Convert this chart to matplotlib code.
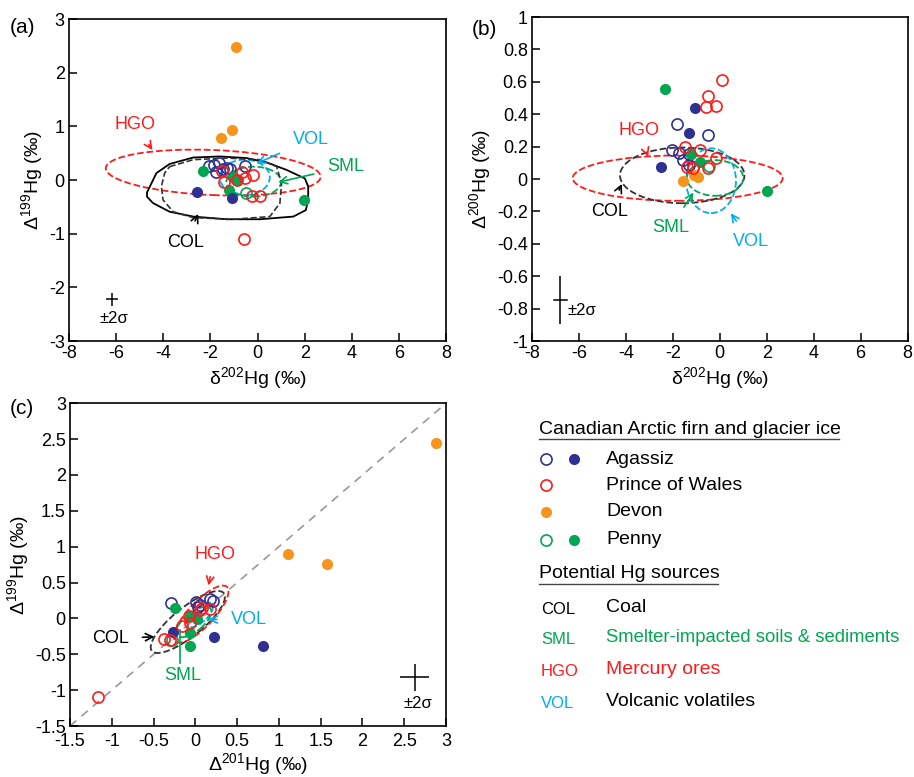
import matplotlib
matplotlib.use("Agg")
import matplotlib.pyplot as plt
from matplotlib.patches import Ellipse, Polygon
import numpy as np

plt.rcParams["font.family"] = ["Liberation Sans", "DejaVu Sans"]
plt.rcParams["mathtext.fontset"] = "custom"
plt.rcParams["mathtext.rm"] = "Liberation Sans"
plt.rcParams["axes.linewidth"] = 1.2
plt.rcParams["axes.unicode_minus"] = False

NAVY = "#2e3192"
RED = "#ff1a1a"
ORANGE = "#f7941d"
GREEN = "#00a651"
CYAN = "#00aeef"

# ---- panel (a): d202Hg vs D199Hg ----
a_agz_open_x = [-2.05, -1.85, -1.64, -1.77, -1.46, -1.16, -0.52, -1.30]
a_agz_open_y = [0.26, 0.28, 0.31, 0.15, 0.21, 0.21, 0.27, 0.22]
a_agz_fill_x = [-2.55, -1.09]
a_agz_fill_y = [-0.22, -0.34]
a_pow_x = [-1.50, -1.44, -0.85, -0.64, -0.52, -0.21, -0.23, 0.10, -0.58]
a_pow_y = [0.16, -0.04, 0.00, 0.15, 0.03, 0.10, -0.29, -0.29, -1.10]
a_dev_x = [-0.92, -1.53, -1.09]
a_dev_y = [2.47, 0.78, 0.94]
a_pen_open_x = [-0.50]
a_pen_open_y = [-0.25]
a_pen_fill_x = [-2.31, 1.98, -1.03, -1.23, -0.85]
a_pen_fill_y = [0.16, -0.37, 0.05, -0.18, 0.00]

a_col_solid = [(-4.69, -0.23), (-4.29, 0.13), (-3.73, 0.30), (-2.73, 0.42), (-1.60, 0.44),
               (-0.47, 0.41), (0.38, 0.33), (1.23, 0.19), (2.01, 0.03), (2.15, -0.12),
               (2.15, -0.37), (2.05, -0.56), (1.52, -0.68), (0.10, -0.73), (-1.32, -0.73),
               (-2.73, -0.68), (-3.73, -0.59), (-4.43, -0.43), (-4.69, -0.31)]
a_col_dash = [(-3.73, 0.25), (-2.73, 0.38), (-1.32, 0.41), (0.10, 0.38), (0.81, 0.25),
              (1.02, -0.06), (0.95, -0.43), (0.52, -0.68), (-1.03, -0.73), (-2.73, -0.70),
              (-3.58, -0.59), (-4.01, -0.37), (-4.08, -0.12), (-3.94, 0.13)]
# ellipses: centre x, centre y, full width, full height, angle
a_hgo = (-1.88, 0.14, 9.12, 0.84, -1.0)
a_vol = (-0.54, 0.05, 2.12, 0.66, 0)
a_sml = (-0.16, -0.03, 2.32, 0.56, 0)

# ---- panel (b): d202Hg vs D200Hg ----
b_agz_open_x = [-1.83, -0.52, -2.04, -1.72, -1.55, -1.33, -1.12, -1.33]
b_agz_open_y = [0.34, 0.27, 0.18, 0.16, 0.12, 0.155, 0.077, 0.088]
b_agz_fill_x = [-1.05, -1.29, -2.51]
b_agz_fill_y = [0.438, 0.287, 0.077]
b_pow_x = [0.11, -0.52, -0.60, -0.18, -1.48, -0.84, -0.18, -1.38, -0.51, -1.15]
b_pow_y = [0.613, 0.51, 0.443, 0.454, 0.20, 0.18, 0.133, 0.077, 0.067, 0.07]
b_dev_x = [-1.55, -1.08, -0.91]
b_dev_y = [-0.01, 0.025, 0.015]
b_pen_open_x = [-0.44]
b_pen_open_y = [0.083]
b_pen_fill_x = [-2.33, 2.00, -0.84, -1.22]
b_pen_fill_y = [0.557, -0.073, 0.108, 0.156]

b_hgo = (-1.79, 0.006, 8.94, 0.28, 0)
b_col = (-1.60, 0.023, 5.30, 0.344, 0)
b_vol = (-0.37, -0.01, 2.12, 0.40, 0)
b_sml = (-0.20, 0.007, 2.40, 0.22, 0)

# ---- panel (c): D201Hg vs D199Hg ----
c_agz_open_x = [-0.29, 0.01, 0.18, 0.05, 0.21, 0.03]
c_agz_open_y = [0.22, 0.23, 0.27, 0.19, 0.25, 0.16]
c_agz_fill_x = [0.81, 0.22, -0.27]
c_agz_fill_y = [-0.38, -0.26, -0.19]
c_pow_x = [-1.17, -0.37, -0.30, -0.16, -0.07, -0.08, 0.05, 0.18, 0.08]
c_pow_y = [-1.10, -0.29, -0.30, -0.10, -0.06, 0.03, 0.12, 0.13, 0.15]
c_dev_x = [2.88, 1.11, 1.57]
c_dev_y = [2.45, 0.90, 0.76]
c_pen_open_x = [-0.28]
c_pen_open_y = [-0.30]
c_pen_fill_x = [-0.24, -0.07, -0.07, 0.02, -0.07]
c_pen_fill_y = [0.15, -0.39, -0.20, -0.01, 0.03]

c_hgo = (0.07, 0.06, 0.98, 0.32, 52)
c_col = (-0.09, -0.05, 1.18, 0.38, 44)
c_vol = (0.06, 0.05, 0.42, 0.18, 50)
c_sml = (-0.02, -0.05, 0.55, 0.24, 45)

fig = plt.figure(figsize=(9.14, 7.77), dpi=100)
ax_a = fig.add_axes([0.0755, 0.561, 0.4125, 0.4145])
ax_b = fig.add_axes([0.582, 0.561, 0.411, 0.417])
ax_c = fig.add_axes([0.0766, 0.0656, 0.4114, 0.4154])

MS = 8


def samples(ax, d):
    ax.plot(d["agz_open"][0], d["agz_open"][1], "o", ms=MS, mfc="none", mec=NAVY, mew=1.2)
    ax.plot(d["pen_open"][0], d["pen_open"][1], "o", ms=MS, mfc="none", mec=GREEN, mew=1.2)
    ax.plot(d["pen_fill"][0], d["pen_fill"][1], "o", ms=MS, color=GREEN, mec="none")
    ax.plot(d["agz_fill"][0], d["agz_fill"][1], "o", ms=MS, color=NAVY, mec="none")
    ax.plot(d["dev"][0], d["dev"][1], "o", ms=MS, color=ORANGE, mec="none")
    ax.plot(d["pow"][0], d["pow"][1], "o", ms=MS, mfc="none", mec=RED, mew=1.2)


def ell(ax, p, color, ls="--", lw=1.3):
    ax.add_patch(Ellipse((p[0], p[1]), p[2], p[3], angle=p[4], fill=False,
                         edgecolor=color, ls=ls, lw=lw, zorder=1))


def label(ax, text, color, xy, xytext, fs=13):
    ax.annotate(text, xy=xy, xytext=xytext, color=color, fontsize=fs,
                ha="center", va="center",
                arrowprops=dict(arrowstyle="->", color=color, lw=1.2,
                                shrinkA=8, shrinkB=0))


def errbar(ax, x, y, dx, dy, txt, tx, ty):
    ax.errorbar([x], [y], xerr=[dx], yerr=[dy], fmt="none", ecolor="black",
                elinewidth=1.1, capsize=0)
    ax.text(tx, ty, txt, fontsize=12, ha="center", va="center")


def style(ax):
    ax.tick_params(direction="in", length=6, width=1.1, labelsize=13, pad=3,
                   top=False, right=False)


# (a)
ell(ax_a, a_hgo, RED)
ell(ax_a, a_vol, CYAN)
ell(ax_a, a_sml, GREEN)
ax_a.add_patch(Polygon(a_col_solid, closed=True, fill=False, ec="black", lw=1.3, joinstyle="round"))
ax_a.add_patch(Polygon(a_col_dash, closed=True, fill=False, ec="#333333", lw=1.2, ls="--"))
samples(ax_a, dict(agz_open=(a_agz_open_x, a_agz_open_y), agz_fill=(a_agz_fill_x, a_agz_fill_y),
                   pow=(a_pow_x, a_pow_y), dev=(a_dev_x, a_dev_y),
                   pen_open=(a_pen_open_x, a_pen_open_y), pen_fill=(a_pen_fill_x, a_pen_fill_y)))
label(ax_a, "HGO", RED, (-4.46, 0.56), (-5.2, 1.04))
label(ax_a, "VOL", CYAN, (-0.04, 0.31), (2.25, 0.75))
label(ax_a, "SML", GREEN, (0.88, -0.04), (3.75, 0.25))
label(ax_a, "COL", "black", (-2.52, -0.63), (-3.05, -1.16))
errbar(ax_a, -6.16, -2.22, 0.26, 0.12, "±2σ", -6.1, -2.57)
ax_a.set_xlim(-8, 8)
ax_a.set_ylim(-3, 3)
ax_a.set_xticks(range(-8, 9, 2))
ax_a.set_yticks(range(-3, 4))
ax_a.set_xlabel("δ$^{202}$Hg (‰)", fontsize=14, labelpad=2)
ax_a.set_ylabel("Δ$^{199}$Hg (‰)", fontsize=14, labelpad=2)
style(ax_a)

# (b)
ell(ax_b, b_hgo, RED)
ell(ax_b, b_col, "#333333")
ell(ax_b, b_vol, CYAN)
ell(ax_b, b_sml, GREEN)
samples(ax_b, dict(agz_open=(b_agz_open_x, b_agz_open_y), agz_fill=(b_agz_fill_x, b_agz_fill_y),
                   pow=(b_pow_x, b_pow_y), dev=(b_dev_x, b_dev_y),
                   pen_open=(b_pen_open_x, b_pen_open_y), pen_fill=(b_pen_fill_x, b_pen_fill_y)))
label(ax_b, "HGO", RED, (-3.05, 0.139), (-3.45, 0.30))
label(ax_b, "COL", "black", (-4.17, -0.03), (-4.7, -0.20))
label(ax_b, "SML", GREEN, (-1.12, -0.083), (-2.1, -0.30))
label(ax_b, "VOL", CYAN, (0.47, -0.211), (1.32, -0.385))
errbar(ax_b, -6.79, -0.746, 0.0, 0.146, "±2σ", -5.85, -0.81)
ax_b.plot([-7.07, -6.51], [-0.746, -0.746], color="black", lw=1.1)
ax_b.set_xlim(-8, 8)
ax_b.set_ylim(-1, 1)
ax_b.set_xticks(range(-8, 9, 2))
ax_b.set_yticks(np.round(np.arange(-1, 1.01, 0.2), 1))
ax_b.set_yticklabels(["-1", "-0.8", "-0.6", "-0.4", "-0.2", "0", "0.2", "0.4", "0.6", "0.8", "1"])
ax_b.set_xlabel("δ$^{202}$Hg (‰)", fontsize=14, labelpad=2)
ax_b.set_ylabel("Δ$^{200}$Hg (‰)", fontsize=14, labelpad=2)
style(ax_b)

# (c)
ax_c.plot([-1.5, 3], [-1.5, 3], ls=(0, (5, 4)), color="#999999", lw=1.2, zorder=0)
ell(ax_c, c_col, "#333333")
ell(ax_c, c_hgo, RED)
ell(ax_c, c_vol, CYAN)
ell(ax_c, c_sml, GREEN)
samples(ax_c, dict(agz_open=(c_agz_open_x, c_agz_open_y), agz_fill=(c_agz_fill_x, c_agz_fill_y),
                   pow=(c_pow_x, c_pow_y), dev=(c_dev_x, c_dev_y),
                   pen_open=(c_pen_open_x, c_pen_open_y), pen_fill=(c_pen_fill_x, c_pen_fill_y)))
label(ax_c, "HGO", RED, (0.157, 0.46), (0.23, 0.89))
label(ax_c, "VOL", CYAN, (0.157, -0.015), (0.64, -0.015))
label(ax_c, "COL", "black", (-0.49, -0.256), (-1.02, -0.28))
ax_c.plot([-0.178, -0.178], [-0.628, -0.164], color=GREEN, lw=1.2)
ax_c.text(-0.15, -0.80, "SML", color=GREEN, fontsize=13, ha="center", va="center")
errbar(ax_c, 2.624, -0.823, 0.17, 0.186, "±2σ", 2.66, -1.185)
ax_c.set_xlim(-1.5, 3)
ax_c.set_ylim(-1.5, 3)
ticks = [-1.5, -1, -0.5, 0, 0.5, 1, 1.5, 2, 2.5, 3]
tlabels = ["-1.5", "-1", "-0.5", "0", "0.5", "1", "1.5", "2", "2.5", "3"]
ax_c.set_xticks(ticks)
ax_c.set_xticklabels(tlabels)
ax_c.set_yticks(ticks)
ax_c.set_yticklabels(tlabels)
ax_c.set_xlabel("Δ$^{201}$Hg (‰)", fontsize=14, labelpad=1)
ax_c.set_ylabel("Δ$^{199}$Hg (‰)", fontsize=14, labelpad=2)
style(ax_c)
ax_c.tick_params(axis="x", pad=5)

# panel letters
fig.text(0.011, 0.965, "(a)", fontsize=15, va="center")
fig.text(0.516, 0.962, "(b)", fontsize=15, va="center")
fig.text(0.011, 0.474, "(c)", fontsize=15, va="center")

# legend panel
leg_samples = ["Agassiz", "Prince of Wales", "Devon", "Penny"]
leg_open = [NAVY, RED, None, GREEN]
leg_fill = [NAVY, None, ORANGE, GREEN]
src_codes = ["COL", "SML", "HGO", "VOL"]
src_names = ["Coal", "Smelter-impacted soils & sediments", "Mercury ores", "Volcanic volatiles"]
src_code_colors = ["black", GREEN, RED, CYAN]
src_name_colors = ["black", GREEN, RED, "black"]
src_name_sizes = [14, 13.3, 14, 14]

ax_l = fig.add_axes([0, 0, 1, 1], facecolor="none")
ax_l.set_xlim(0, 914)
ax_l.set_ylim(777, 0)
ax_l.axis("off")
ax_l.text(539, 429, "Canadian Arctic firn and glacier ice", fontsize=14, va="center")
ax_l.plot([539, 839], [439, 439], color="#444444", lw=1)
sample_rows = [459, 485, 512, 540]
for yy, name, oc, fc in zip(sample_rows, leg_samples, leg_open, leg_fill):
    if oc is not None:
        ax_l.plot([546], [yy], "o", ms=MS, mfc="none", mec=oc, mew=1.2)
    if fc is not None:
        x0 = 574 if oc is not None else 546
        ax_l.plot([x0], [yy], "o", ms=MS, color=fc, mec="none")
    ax_l.text(606, yy, name, fontsize=14, va="center")
ax_l.text(539, 574, "Potential Hg sources", fontsize=14, va="center")
ax_l.plot([539, 718], [584, 584], color="#444444", lw=1)
src_rows = [608, 638, 670, 702]
for yy, code, name, cc, nc, fs in zip(src_rows, src_codes, src_names, src_code_colors,
                                      src_name_colors, src_name_sizes):
    ax_l.text(541, yy + 1, code, fontsize=12, va="center", color=cc)
    ax_l.text(606, yy, name, fontsize=fs, va="center", color=nc)

fig.savefig("out.png", dpi=100)
